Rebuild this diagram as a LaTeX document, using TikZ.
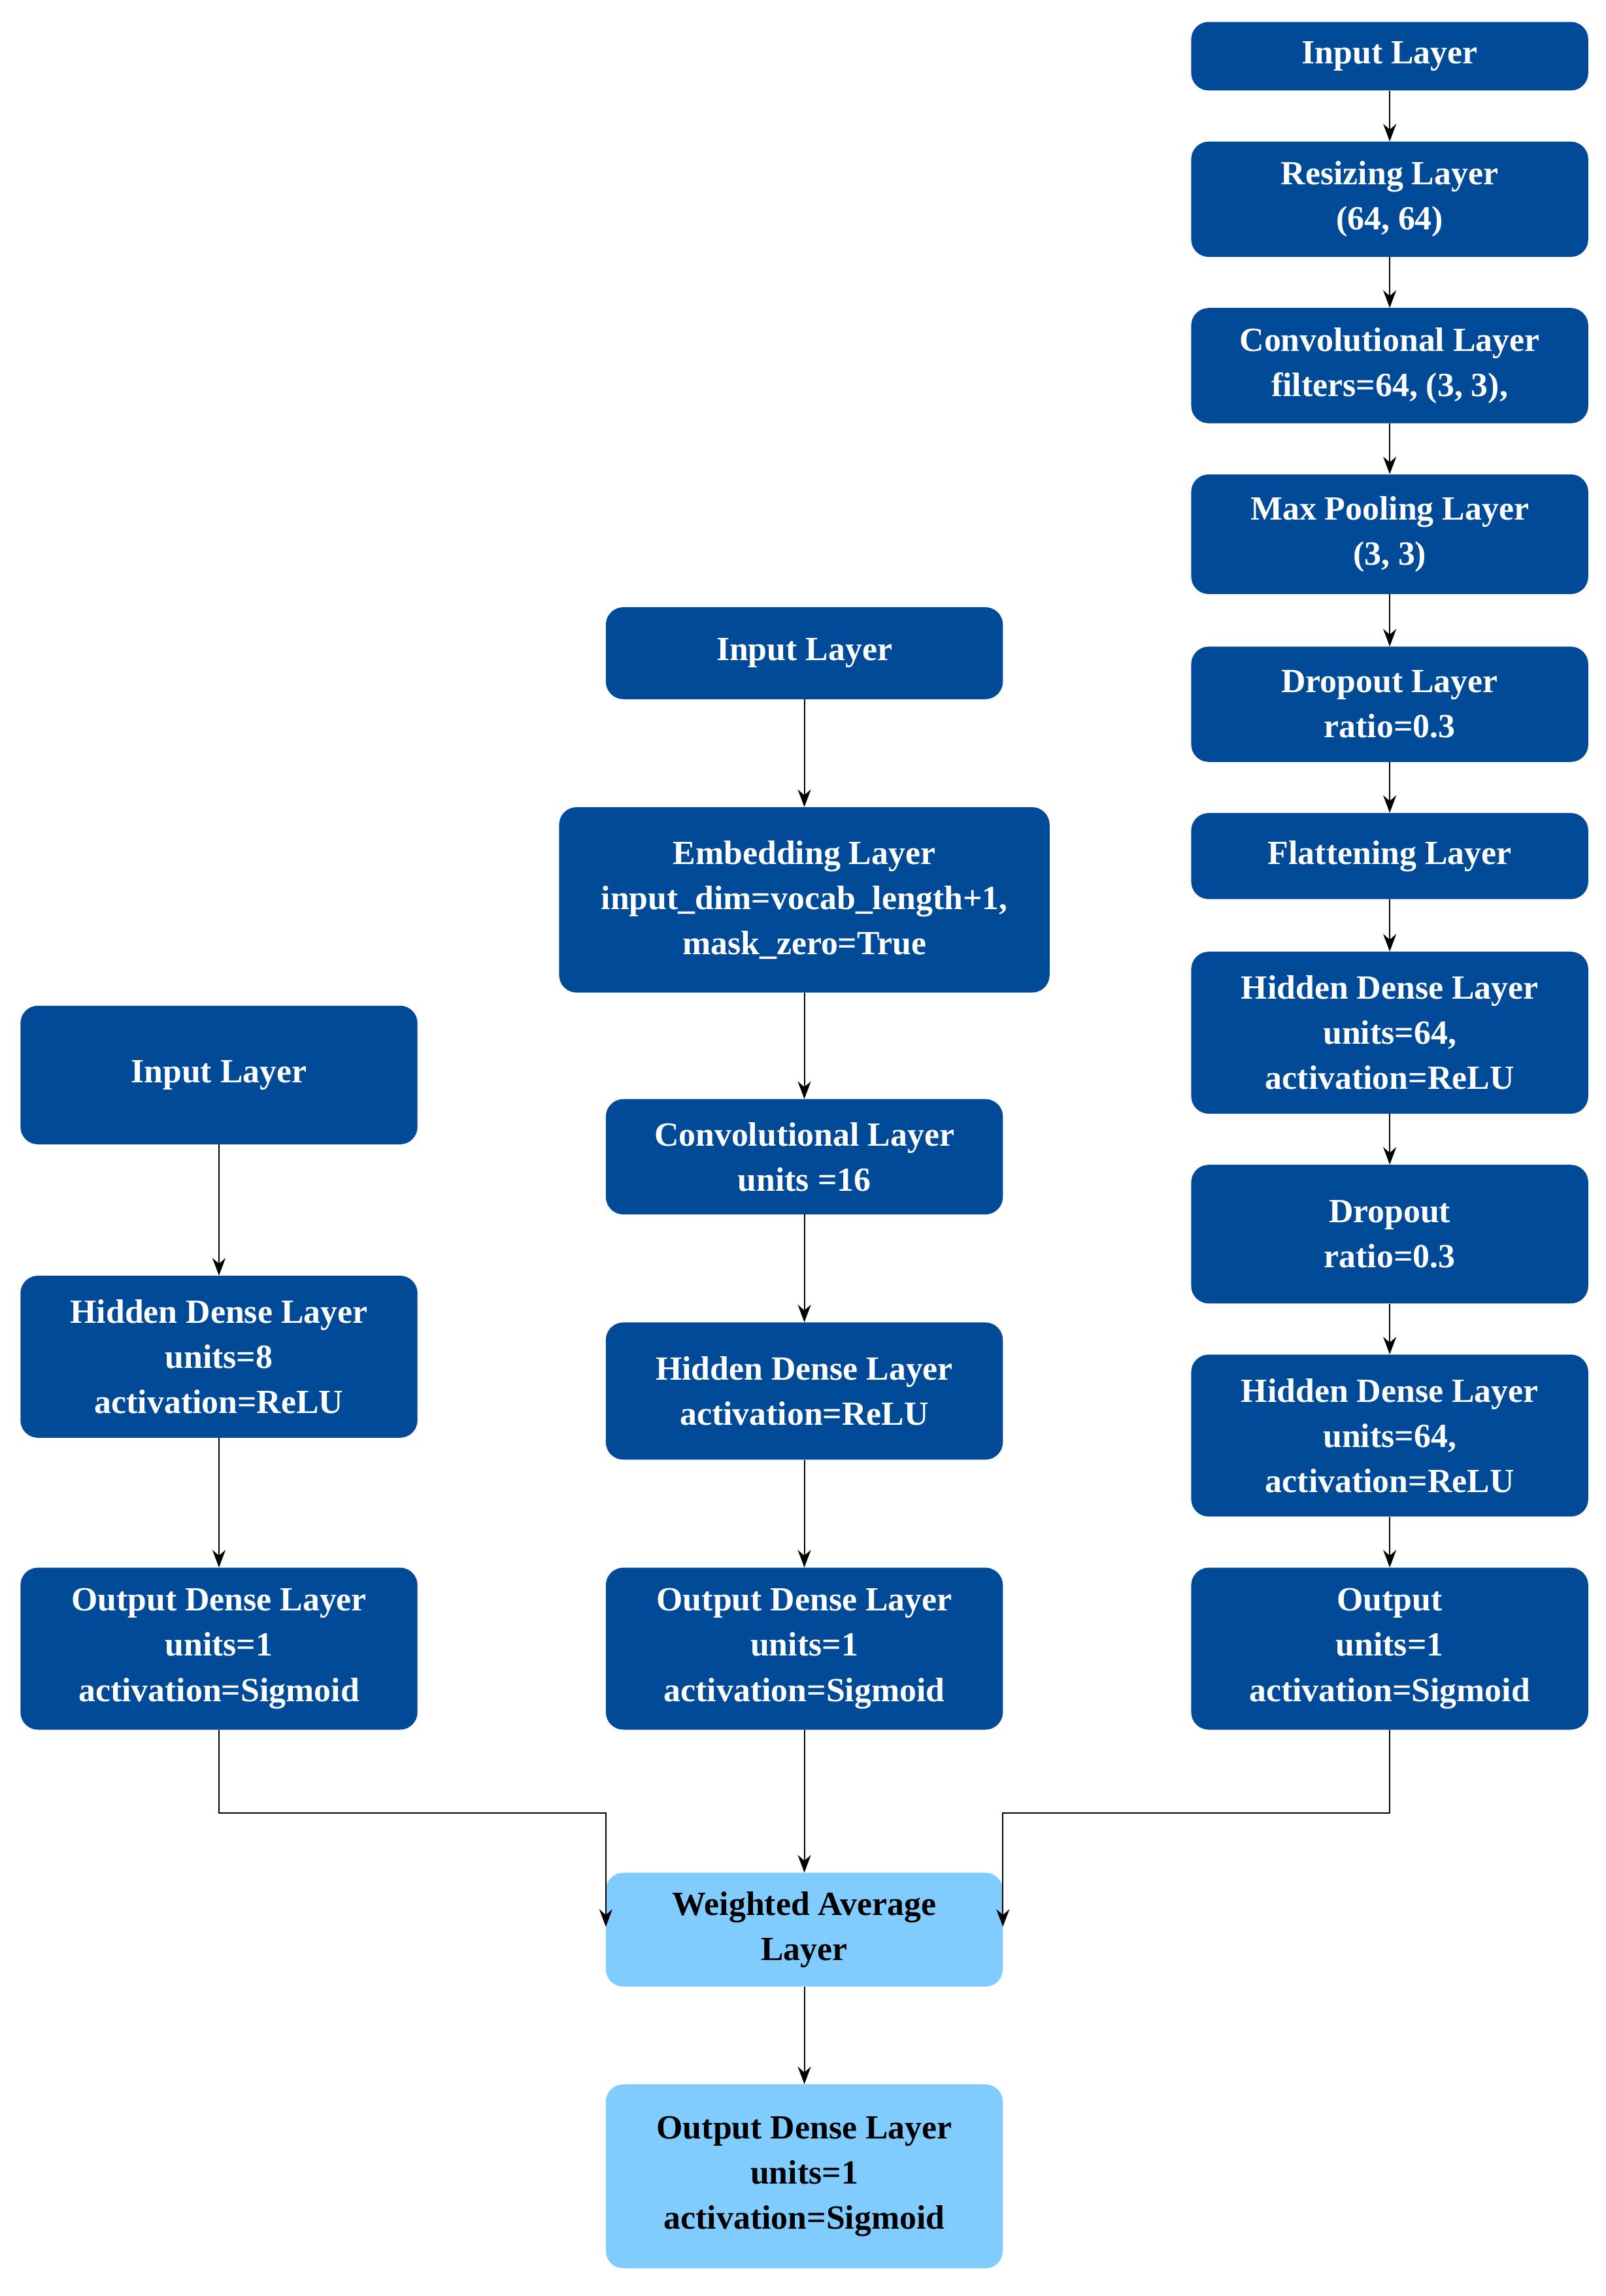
\documentclass[tikz,border=0pt]{standalone}
\usepackage{fontspec}
\setmainfont{Liberation Serif}
\usetikzlibrary{arrows.meta}
\definecolor{db}{HTML}{004A98}
\definecolor{lb}{HTML}{80CCFF}
\begin{document}
\begin{tikzpicture}[x=0.05cm,y=-0.05cm,
 box/.style={rounded corners=0.6cm,inner sep=0pt,align=center,font=\fontsize{33}{44}\selectfont\bfseries},
 dk/.style={box,fill=db,text=white},
 lt/.style={box,fill=lb,text=black},
 ar/.style={-{Stealth[length=0.6cm,width=0.45cm]},line width=1.2pt}]
\useasboundingbox (0,0) rectangle (1100,1573);
\newcommand{\bx}[7]{\node[#1,minimum width={(#4-#3)*0.05cm},minimum height={(#6-#5)*0.05cm}] (#2) at ({(#3+#4)/2},{(#5+#6)/2}) {#7};}
% right
\bx{dk}{r1}{816}{1088}{15}{62}{Input Layer}
\bx{dk}{r2}{816}{1088}{97}{176}{Resizing Layer\\(64, 64)}
\bx{dk}{r3}{816}{1088}{211}{290}{Convolutional Layer\\filters=64, (3, 3),}
\bx{dk}{r4}{816}{1088}{325}{407}{Max Pooling Layer\\(3, 3)}
\bx{dk}{r5}{816}{1088}{443}{522}{Dropout Layer\\ratio=0.3}
\bx{dk}{r6}{816}{1088}{557}{616}{Flattening Layer}
\bx{dk}{r7}{816}{1088}{652}{763}{Hidden Dense Layer\\units=64,\\activation=ReLU}
\bx{dk}{r8}{816}{1088}{798}{893}{Dropout\\ratio=0.3}
\bx{dk}{r9}{816}{1088}{928}{1039}{Hidden Dense Layer\\units=64,\\activation=ReLU}
\bx{dk}{r10}{816}{1088}{1074}{1185}{Output\\units=1\\activation=Sigmoid}
% middle
\bx{dk}{m1}{415}{687}{416}{479}{Input Layer}
\bx{dk}{m2}{383}{719}{553}{680}{Embedding Layer\\input\_dim=vocab\_length+1,\\mask\_zero=True}
\bx{dk}{m3}{415}{687}{753}{832}{Convolutional Layer\\units =16}
\bx{dk}{m4}{415}{687}{906}{1000}{Hidden Dense Layer\\activation=ReLU}
\bx{dk}{m5}{415}{687}{1074}{1185}{Output Dense Layer\\units=1\\activation=Sigmoid}
% left
\bx{dk}{l1}{14}{286}{689}{784}{Input Layer}
\bx{dk}{l2}{14}{286}{874}{985}{Hidden Dense Layer\\units=8\\activation=ReLU}
\bx{dk}{l3}{14}{286}{1074}{1185}{Output Dense Layer\\units=1\\activation=Sigmoid}
% bottom
\bx{lt}{w}{415}{687}{1283}{1361}{Weighted Average\\Layer}
\bx{lt}{o}{415}{687}{1428}{1554}{Output Dense Layer\\units=1\\activation=Sigmoid}
\foreach \a/\b in {r1/r2,r2/r3,r3/r4,r4/r5,r5/r6,r6/r7,r7/r8,r8/r9,r9/r10,m1/m2,m2/m3,m3/m4,m4/m5,m5/w,l1/l2,l2/l3,w/o}
  \draw[ar] (\a) -- (\b);
\coordinate (wl) at (415,1320);
\coordinate (wr) at (687,1320);
\draw[ar] (l3.south) |- (415,1242) -- (wl);
\draw[ar] (r10.south) |- (687,1242) -- (wr);
\end{tikzpicture}
\end{document}
